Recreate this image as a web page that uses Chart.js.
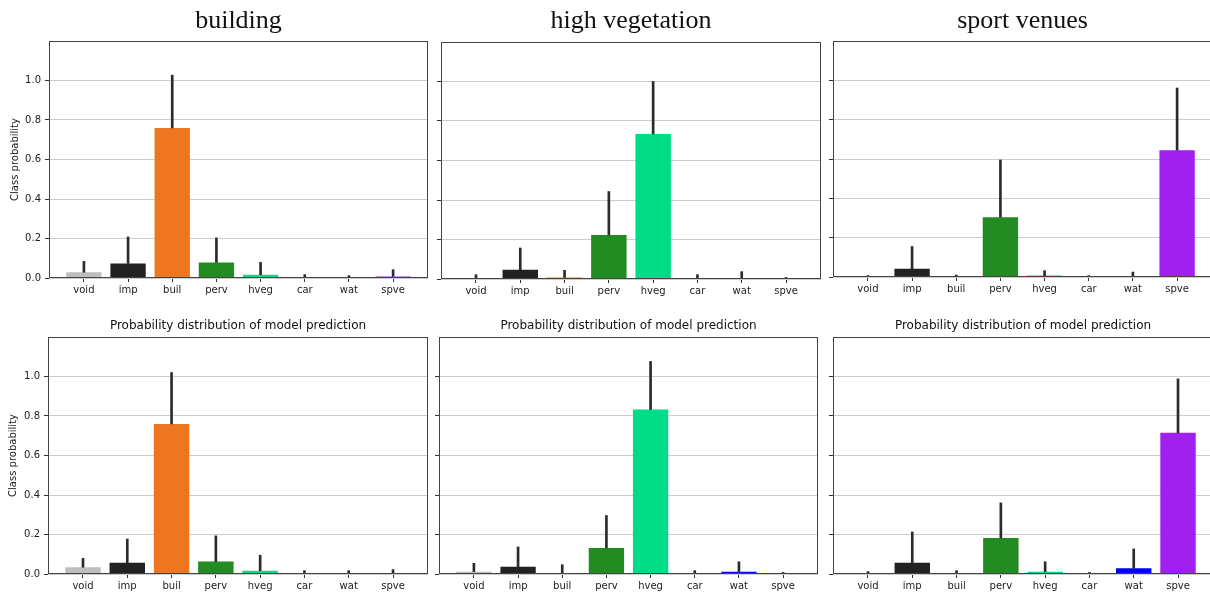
<!DOCTYPE html>
<html>
<head>
<meta charset="utf-8">
<script src="https://cdn.jsdelivr.net/npm/chart.js@4.4.0/dist/chart.umd.min.js"></script>
<style>
  body { margin: 0; background: #fff; }
  #wrap { position: relative; width: 1210px; height: 594px; overflow: hidden; background: #fff; }
  #wrap canvas { position: absolute; }
</style>
</head>
<body>
<div id="wrap"></div>
<script>
const classNames = ['void', 'imp', 'buil', 'perv', 'hveg', 'car', 'wat', 'spve'];
const classColors = ['#bebebe', '#222222', '#ee7621', '#228b22', '#00dc87', '#ff0000', '#0000ff', '#a020f0'];
const yTicks = [0, 0.2, 0.4, 0.6, 0.8, 1.0];

// top row
const buildingTopMean = [0.029, 0.074, 0.760, 0.079, 0.017, 0, 0, 0.008];
const buildingTopStd = [0.055, 0.134, 0.267, 0.124, 0.062, 0.017, 0.012, 0.034];
const vegTopMean = [0.005, 0.047, 0.008, 0.223, 0.734, 0, 0, 0];
const vegTopStd = [0.017, 0.110, 0.036, 0.220, 0.266, 0.022, 0.037, 0.008];
const sportTopMean = [0, 0.042, 0, 0.304, 0.007, 0, 0, 0.645];
const sportTopStd = [0.007, 0.113, 0.010, 0.291, 0.025, 0.007, 0.025, 0.316];

// bottom row (model prediction)
const buildingModelMean = [0.034, 0.057, 0.760, 0.063, 0.017, 0, 0, 0];
const buildingModelStd = [0.045, 0.120, 0.260, 0.130, 0.078, 0.017, 0.017, 0.022];
const vegModelMean = [0.012, 0.037, 0.005, 0.132, 0.833, 0, 0.012, 0];
const vegModelStd = [0.042, 0.100, 0.042, 0.164, 0.243, 0.017, 0.050, 0.008];
const sportModelMean = [0, 0.057, 0, 0.182, 0.012, 0, 0.029, 0.715];
const sportModelStd = [0.012, 0.156, 0.017, 0.178, 0.050, 0.008, 0.098, 0.273];

const topTitles = ['building', 'high vegetation', 'sport venues'];
const modelTitle = 'Probability distribution of model prediction';
const yAxisTitle = 'Class probability';

const panels = [
  { mean: buildingTopMean, std: buildingTopStd, title: topTitles[0], big: true,
    left: 0, top: 0, w: 430, h: 300, yw: 49, pr: 2, tTop: 8, tBot: 7, xh: 22, labels: true, yPad: 9 },
  { mean: vegTopMean, std: vegTopStd, title: topTitles[1], big: true,
    left: 430, top: 0, w: 392, h: 300, yw: 11, pr: 1, tTop: 8, tBot: 8, xh: 21, labels: false },
  { mean: sportTopMean, std: sportTopStd, title: topTitles[2], big: true,
    left: 822, top: 0, w: 400, h: 300, yw: 11, pr: 10, tTop: 8, tBot: 7, xh: 23, labels: false },
  { mean: buildingModelMean, std: buildingModelStd, title: modelTitle, big: false,
    left: 0, top: 300, w: 430, h: 294, yw: 48, pr: 2, tTop: 20, tBot: 5, xh: 20, labels: true, yPad: 7 },
  { mean: vegModelMean, std: vegModelStd, title: modelTitle, big: false,
    left: 430, top: 300, w: 392, h: 294, yw: 9, pr: 4, tTop: 20, tBot: 5, xh: 20, labels: false },
  { mean: sportModelMean, std: sportModelStd, title: modelTitle, big: false,
    left: 822, top: 300, w: 400, h: 294, yw: 11, pr: 9, tTop: 20, tBot: 5, xh: 20, labels: false }
];

Chart.defaults.font.family = 'DejaVu Sans';
Chart.defaults.font.size = 10;
Chart.defaults.color = '#222';

const framePlugin = {
  id: 'frame',
  afterDraw(chart) {
    const { ctx, chartArea: a } = chart;
    ctx.save();
    ctx.strokeStyle = '#444';
    ctx.lineWidth = 1;
    ctx.strokeRect(a.left + 0.5, a.top + 0.5, a.right - a.left - 1, a.bottom - a.top - 1);
    ctx.restore();
  }
};

function makePanel(p) {
  const canvas = document.createElement('canvas');
  canvas.width = p.w;
  canvas.height = p.h;
  canvas.style.left = p.left + 'px';
  canvas.style.top = p.top + 'px';
  document.getElementById('wrap').appendChild(canvas);

  const barData = classNames.map((c, i) => ({ x: i, y: p.mean[i] }));
  const errData = classNames.map((c, i) => ({ x: i, y: [p.mean[i], p.mean[i] + p.std[i]] }));

  new Chart(canvas.getContext('2d'), {
    type: 'bar',
    data: {
      datasets: [
        {
          data: errData,
          backgroundColor: '#2b2b2b',
          barThickness: 2,
          grouped: false
        },
        {
          data: barData,
          backgroundColor: classColors,
          borderWidth: 0,
          categoryPercentage: 0.8,
          barPercentage: 1,
          grouped: false
        }
      ]
    },
    options: {
      responsive: false,
      animation: false,
      layout: { padding: { left: 0, right: p.pr, top: 0, bottom: 0 } },
      plugins: {
        legend: { display: false },
        tooltip: { enabled: false },
        title: {
          display: true,
          text: p.title,
          fullSize: false,
          color: '#111',
          font: p.big
            ? { family: 'Liberation Serif', size: 26, weight: 'normal', lineHeight: 1 }
            : { family: 'DejaVu Sans', size: 12, weight: 'normal', lineHeight: 1 },
          padding: { top: p.tTop, bottom: p.tBot }
        }
      },
      scales: {
        x: {
          type: 'linear',
          min: -0.79,
          max: 7.79,
          offset: false,
          afterBuildTicks: axis => { axis.ticks = classNames.map((c, i) => ({ value: i })); },
          afterFit: axis => { axis.height = p.xh; },
          ticks: {
            autoSkip: false,
            maxRotation: 0,
            padding: 2,
            callback: v => classNames[v]
          },
          grid: { offset: false, drawOnChartArea: false, tickLength: 4, tickColor: '#333' },
          border: { display: false }
        },
        y: {
          min: 0,
          max: 1.2,
          afterBuildTicks: axis => { axis.ticks = yTicks.map(v => ({ value: v })); },
          afterFit: axis => { axis.width = p.yw; },
          ticks: {
            display: p.labels,
            padding: 4,
            callback: v => v.toFixed(1)
          },
          grid: { color: '#cccccc', lineWidth: 1, tickLength: 4, tickColor: '#333' },
          border: { display: false },
          title: {
            display: p.labels,
            text: yAxisTitle,
            font: { size: 10 },
            padding: { top: p.yPad || 0, bottom: 0 }
          }
        }
      }
    },
    plugins: [framePlugin]
  });
}

panels.forEach(makePanel);
</script>
</body>
</html>
